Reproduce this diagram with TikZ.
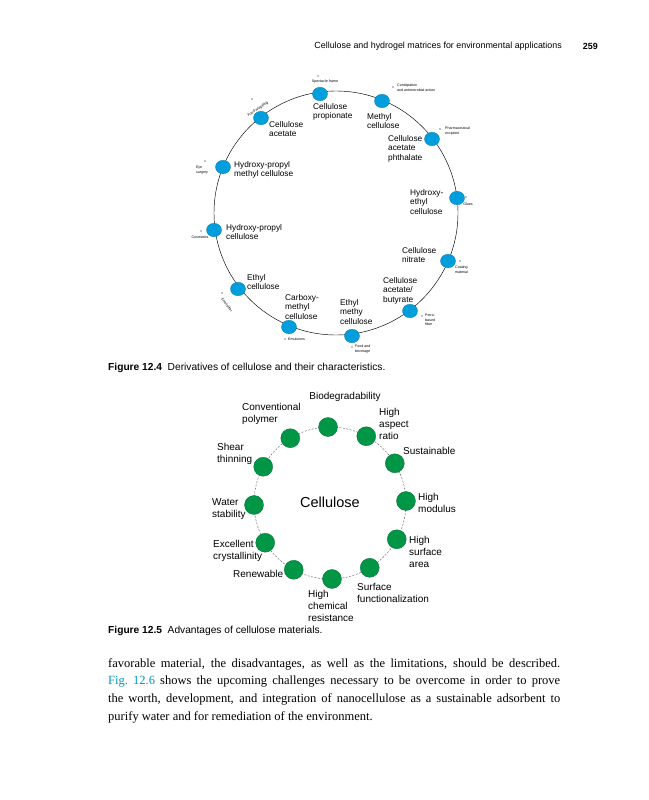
\documentclass[tikz,border=0pt]{standalone}
\usepackage{fontspec}
\setmainfont{Liberation Serif}
\setsansfont{Liberation Sans}
\usetikzlibrary{shapes.geometric}
\definecolor{DerivBlue}{RGB}{0,158,220}
\definecolor{AdvGreen}{RGB}{0,150,70}
\definecolor{LinkBlue}{RGB}{0,150,200}

\begin{document}
\begin{tikzpicture}[x=1pt,y=-1pt,
  deriv/.style={ellipse,fill=DerivBlue,draw=DerivBlue!75!black,line width=0.3pt,minimum width=15pt,minimum height=13.5pt,inner sep=0pt},
  dlabel/.style={font=\sffamily\fontsize{8.3}{9.5}\selectfont,align=left,inner sep=0pt,anchor=north west},
  uselabel/.style={font=\sffamily\fontsize{3.6}{4.6}\selectfont,align=left,inner sep=0pt},
  adv/.style={circle,fill=AdvGreen,draw=AdvGreen!70!black,line width=0.3pt,minimum size=19pt,inner sep=0pt},
  alabel/.style={font=\sffamily\fontsize{10}{11.7}\selectfont,align=left,inner sep=0pt,anchor=north west},
  caption/.style={font=\sffamily\fontsize{10.2}{12}\selectfont,inner sep=0pt,anchor=west}]
\useasboundingbox (0,0) rectangle (648,800);
\fill[white] (0,0) rectangle (648,800);
% running head
\node[font=\sffamily\fontsize{8.9}{10}\selectfont,inner sep=0pt,anchor=east] (head) at (562,46) {Cellulose and hydrogel matrices for environmental applications};
\node[font=\sffamily\bfseries\fontsize{8.9}{10}\selectfont,inner sep=0pt,anchor=east] (page) at (598,46) {259};

% Figure 12.4
\coordinate (ring4) at (336,213);
\draw[line width=0.45pt] (ring4) circle (122);
\foreach \x/\y/\n in %
{320/94/cp,382/101/mc,261/118/ca,432/139/cap,223/167/hpmc,457/198/hec,
 214/230/hpc,448/261/cn,238/289/ec,410/311/cab,289/327/cmc,352/336/emc} {
   \node[deriv] (\n) at (\x,\y) {};
}
\node[dlabel] (cp-l) at (313,103) {Cellulose\\propionate};
\node[dlabel] (mc-l) at (367,113) {Methyl\\cellulose};
\node[dlabel] (ca-l) at (269,121) {Cellulose\\acetate};
\node[dlabel] (cap-l) at (388,135) {Cellulose\\acetate\\phthalate};
\node[dlabel] (hpmc-l) at (234,161) {Hydroxy-propyl\\methyl cellulose};
\node[dlabel] (hec-l) at (410,189) {Hydroxy-\\ethyl\\cellulose};
\node[dlabel] (hpc-l) at (226,224) {Hydroxy-propyl\\cellulose};
\node[dlabel] (cn-l) at (402,247) {Cellulose\\nitrate};
\node[dlabel] (ec-l) at (247,274) {Ethyl\\cellulose};
\node[dlabel] (cmc-l) at (285,294) {Carboxy-\\methyl\\cellulose};
\node[dlabel] (emc-l) at (340,299) {Ethyl\\methy\\cellulose};
\node[dlabel] (cab-l) at (383,277) {Cellulose\\acetate/\\butyrate};
% uses
\foreach \dx/\dy/\tx/\ty/\an/\rot/\t [count=\k] in %
{318/76/325/82/center/0/{Spectacle frame},
 252/99/258/109/center/34/{Food wrapping},
 393/87/397/84/north west/0/{Constipation\\and antimicrobial action},
 440/129/445/127/north west/0/{Pharmaceutical\\excipient},
 205/161/202/166/north/0/{Eye\\surgery},
 466/197/468/204/center/0/{Glues},
 201/231/200/237/center/0/{Cosmetics},
 460/261/455/266/north west/0/{Coating\\material},
 222/293/227/305/center/-51/{Emulsifier},
 285/339/288/339/west/0/{Emulsions},
 352/347/355/345/north west/0/{Food and\\beverage},
 422/316/425/314/north west/0/{Petro-\\based\\fiber}} {
   \fill (\dx,\dy) circle (0.7);
   \node[uselabel,anchor=\an,rotate=\rot] (use\k) at (\tx,\ty) {\t};
}
\node[caption] (cap4) at (108,368) {\textbf{Figure 12.4}\ \ Derivatives of cellulose and their characteristics.};

% Figure 12.5
\coordinate (ring5) at (330,503);
\draw[gray!70!black,line width=0.4pt,dash pattern=on 2pt off 1.5pt] (ring5) circle (76);
\foreach \i/\n in %
{0/bio,1/asp,2/sus,3/mod,4/sar,5/sfn,6/chm,7/ren,8/cry,9/wat,10/she,11/con} {
   \path (ring5) ++({30*\i-91.5}:76) node[adv] (\n) {};
}
\node[font=\sffamily\fontsize{14.5}{16}\selectfont,inner sep=0pt] (cel) at (330,502) {Cellulose};
\node[alabel,anchor=center] (bio-l) at (345,397) {Biodegradability};
\node[alabel] (con-l) at (242,403.3) {Conventional\\polymer};
\node[alabel] (asp-l) at (379,408.3) {High\\aspect\\ratio};
\node[alabel,anchor=west] (sus-l) at (403,451) {Sustainable};
\node[alabel] (she-l) at (217,443.3) {Shear\\thinning};
\node[alabel] (wat-l) at (212,498.3) {Water\\stability};
\node[alabel] (mod-l) at (418,493.3) {High\\modulus};
\node[alabel] (cry-l) at (213,540.3) {Excellent\\crystallinity};
\node[alabel] (sar-l) at (409,536.3) {High\\surface\\area};
\node[alabel,anchor=west] (ren-l) at (233,574) {Renewable};
\node[alabel] (sfn-l) at (357,583.3) {Surface\\functionalization};
\node[alabel] (chm-l) at (308,590.3) {High\\chemical\\resistance};
\node[caption] (cap5) at (108,631) {\textbf{Figure 12.5}\ \ Advantages of cellulose materials.};

% body text
\node[inner sep=0pt,anchor=north west,text width=452pt,align=justify,
  font=\fontsize{12.5}{17.7}\selectfont] (body) at (108,658)
{\hyphenpenalty=10000\emergencystretch=2em
favorable material, the disadvantages, as well as the limitations, should be described.\linebreak
\textcolor{LinkBlue}{Fig.~12.6} shows the upcoming challenges necessary to be overcome in order to prove\linebreak
the worth, development, and integration of nanocellulose as a sustainable adsorbent to\linebreak
purify water and for remediation of the environment.};
\end{tikzpicture}
\end{document}
